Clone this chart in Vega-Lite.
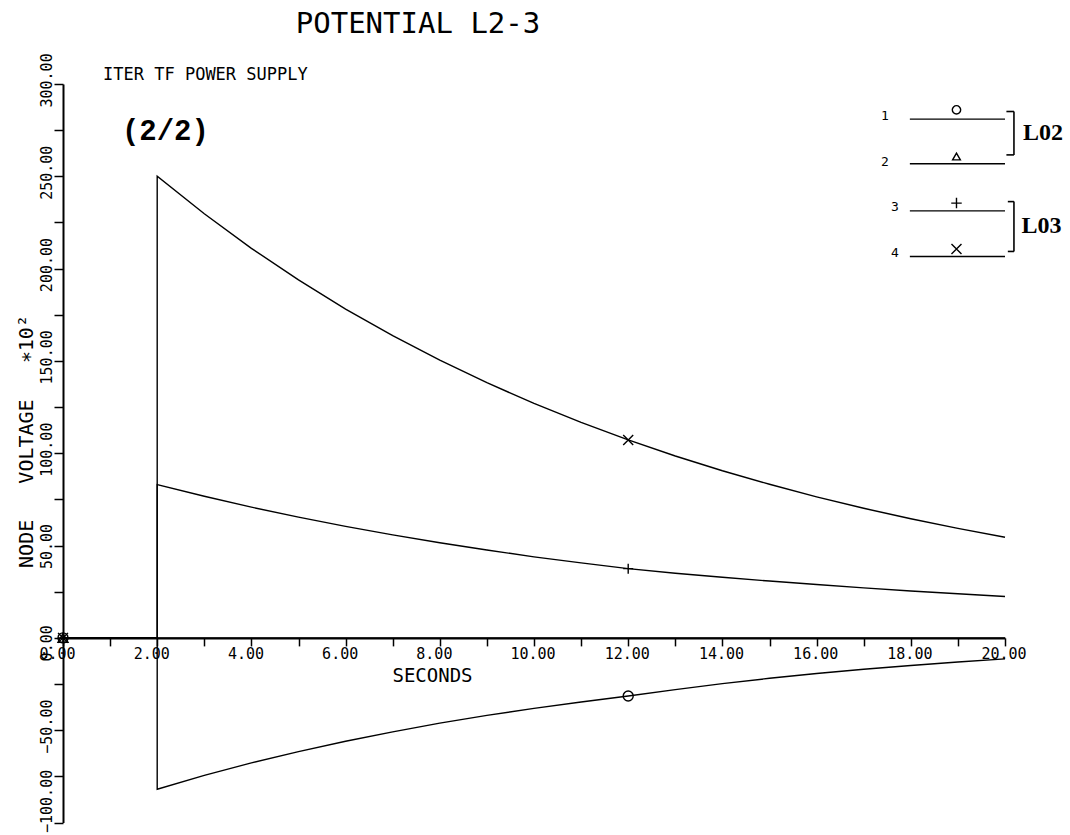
{
  "$schema": "https://vega.github.io/schema/vega-lite/v6.json",
  "width": 942,
  "height": 738.5,
  "autosize": {"type": "none"},
  "padding": {"left": 63, "top": 84, "right": 65, "bottom": 12.5},
  "background": "white",
  "config": {"view": {"stroke": null}, "font": "DejaVu Sans Mono"},
  "title": {
    "text": "POTENTIAL L2-3",
    "anchor": "start",
    "frame": "group",
    "align": "center",
    "dx": 355,
    "offset": 14,
    "font": "DejaVu Sans Mono",
    "fontSize": 29,
    "fontWeight": "normal",
    "color": "black"
  },
  "datasets": {
    "curves": [
      {"series": "4", "t": 0, "v": 0}, {"series": "4", "t": 2, "v": 0}, {"series": "4", "t": 2, "v": 250},
      {"series": "4", "t": 3, "v": 229.7}, {"series": "4", "t": 4, "v": 211.0}, {"series": "4", "t": 5, "v": 193.9},
      {"series": "4", "t": 6, "v": 178.1}, {"series": "4", "t": 7, "v": 163.7}, {"series": "4", "t": 8, "v": 150.4},
      {"series": "4", "t": 9, "v": 138.2}, {"series": "4", "t": 10, "v": 127.0}, {"series": "4", "t": 11, "v": 116.7},
      {"series": "4", "t": 12, "v": 107.2}, {"series": "4", "t": 13, "v": 98.5}, {"series": "4", "t": 14, "v": 90.5},
      {"series": "4", "t": 15, "v": 83.2}, {"series": "4", "t": 16, "v": 76.4}, {"series": "4", "t": 17, "v": 70.2},
      {"series": "4", "t": 18, "v": 64.5}, {"series": "4", "t": 19, "v": 59.3}, {"series": "4", "t": 20, "v": 54.5},
      {"series": "3", "t": 0, "v": 0}, {"series": "3", "t": 2, "v": 0}, {"series": "3", "t": 2, "v": 83},
      {"series": "3", "t": 3, "v": 76.7}, {"series": "3", "t": 4, "v": 70.8}, {"series": "3", "t": 5, "v": 65.4},
      {"series": "3", "t": 6, "v": 60.4}, {"series": "3", "t": 7, "v": 55.8}, {"series": "3", "t": 8, "v": 51.5},
      {"series": "3", "t": 9, "v": 47.6}, {"series": "3", "t": 10, "v": 43.9}, {"series": "3", "t": 11, "v": 40.6},
      {"series": "3", "t": 12, "v": 37.5}, {"series": "3", "t": 13, "v": 35.0}, {"series": "3", "t": 14, "v": 32.8},
      {"series": "3", "t": 15, "v": 30.8}, {"series": "3", "t": 16, "v": 28.9}, {"series": "3", "t": 17, "v": 27.1},
      {"series": "3", "t": 18, "v": 25.4}, {"series": "3", "t": 19, "v": 23.9}, {"series": "3", "t": 20, "v": 22.4},
      {"series": "2", "t": 0, "v": 0}, {"series": "2", "t": 20, "v": 0},
      {"series": "1", "t": 0, "v": 0}, {"series": "1", "t": 2, "v": 0}, {"series": "1", "t": 2, "v": -82},
      {"series": "1", "t": 3, "v": -74.5}, {"series": "1", "t": 4, "v": -67.7}, {"series": "1", "t": 5, "v": -61.6},
      {"series": "1", "t": 6, "v": -56.0}, {"series": "1", "t": 7, "v": -50.9}, {"series": "1", "t": 8, "v": -46.2},
      {"series": "1", "t": 9, "v": -42.0}, {"series": "1", "t": 10, "v": -38.2}, {"series": "1", "t": 11, "v": -34.7},
      {"series": "1", "t": 12, "v": -31.5}, {"series": "1", "t": 13, "v": -28.0}, {"series": "1", "t": 14, "v": -24.8},
      {"series": "1", "t": 15, "v": -21.9}, {"series": "1", "t": 16, "v": -19.3}, {"series": "1", "t": 17, "v": -17.0},
      {"series": "1", "t": 18, "v": -15.0}, {"series": "1", "t": 19, "v": -13.1}, {"series": "1", "t": 20, "v": -11.4}
    ],
    "markers": [
      {"series": "1", "t": 0, "v": 0}, {"series": "2", "t": 0, "v": 0},
      {"series": "3", "t": 0, "v": 0}, {"series": "4", "t": 0, "v": 0},
      {"series": "1", "t": 12, "v": -31.5}, {"series": "3", "t": 12, "v": 37.5}, {"series": "4", "t": 12, "v": 107.2}
    ],
    "note": [{}]
  },
  "layer": [
    {
      "data": {"name": "curves"},
      "mark": {"type": "line", "color": "black", "strokeWidth": 1.4},
      "encoding": {
        "x": {
          "field": "t", "type": "quantitative",
          "scale": {"domain": [0, 20], "nice": false, "zero": false},
          "axis": {
            "title": "SECONDS",
            "values": [0,1,2,3,4,5,6,7,8,9,10,11,12,13,14,15,16,17,18,19,20],
            "format": ".2f",
            "labelExpr": "datum.value % 2 ? '' : datum.label",
            "offset": -184.6,
            "grid": false,
            "domainColor": "black", "domainWidth": 2,
            "tickColor": "black", "tickWidth": 1.5, "tickSize": 8,
            "labelFont": "DejaVu Sans Mono", "labelFontSize": 15, "labelColor": "black",
            "labelAlign": "left", "labelOffset": -24, "labelPadding": 1, "labelBaseline": "top",
            "labelFlush": false, "labelOverlap": false,
            "titleFont": "DejaVu Sans Mono", "titleFontSize": 19, "titleFontWeight": "normal", "titleColor": "black",
            "titleX": 369, "titleY": 44, "titleAlign": "center", "titleBaseline": "alphabetic"
          }
        },
        "y": {
          "field": "v", "type": "quantitative",
          "scale": {"domain": [-100, 300], "nice": false, "zero": false},
          "axis": {
            "title": "NODE\u00a0\u00a0\u00a0VOLTAGE\u00a0\u00a0\u00a0\u221710\u00b2",
            "values": [-100,-75,-50,-25,0,25,50,75,100,125,150,175,200,225,250,275,300],
            "format": ".2f",
            "labelExpr": "datum.value % 50 ? '' : datum.label",
            "grid": false,
            "domainColor": "black", "domainWidth": 2,
            "tickColor": "black", "tickWidth": 1.5, "tickSize": 9,
            "labelFont": "DejaVu Sans Mono", "labelFontSize": 15, "labelColor": "black",
            "labelAngle": -90, "labelAlign": "left", "labelBaseline": "bottom",
            "labelOffset": {"condition": {"test": "datum.value < -90", "value": 10}, "value": 23},
            "labelPadding": 0, "labelOverlap": false, "labelFlush": false,
            "titleFont": "DejaVu Sans Mono", "titleFontSize": 20, "titleFontWeight": "normal", "titleColor": "black",
            "titleAngle": -90, "titleX": -37, "titleY": 357, "titleAlign": "center", "titleBaseline": "middle"
          }
        },
        "detail": {"field": "series", "type": "nominal"},
        "order": {"value": null}
      }
    },
    {
      "data": {"name": "markers"},
      "mark": {"type": "point", "filled": false, "color": "black", "strokeWidth": 1.4, "size": 100, "opacity": 1},
      "encoding": {
        "x": {"field": "t", "type": "quantitative"},
        "y": {"field": "v", "type": "quantitative"},
        "shape": {
          "field": "series", "type": "nominal",
          "scale": {"domain": ["1", "2", "3", "4"], "range": ["circle", "triangle-up", "M-1,0H1M0,-1V1", "M-1,-1L1,1M-1,1L1,-1"]},
          "legend": null
        }
      }
    },
    {
      "data": {"name": "note"},
      "layer": [
        {"mark": {"type": "text", "text": "ITER TF POWER SUPPLY", "align": "left", "baseline": "middle", "font": "DejaVu Sans Mono", "fontSize": 17, "color": "black"},
         "encoding": {"x": {"datum": 0.85}, "y": {"datum": 304.8}}},
        {"mark": {"type": "text", "text": "(2/2)", "align": "left", "baseline": "middle", "font": "Liberation Mono", "fontWeight": "bold", "fontSize": 29, "color": "black"},
         "encoding": {"x": {"datum": 1.25}, "y": {"datum": 274.4}}},
        {"mark": {"type": "rule", "color": "black", "strokeWidth": 1.4}, "encoding": {"x": {"datum": 17.98}, "x2": {"datum": 20.0}, "y": {"datum": 281.0}}},
        {"mark": {"type": "rule", "color": "black", "strokeWidth": 1.4}, "encoding": {"x": {"datum": 17.98}, "x2": {"datum": 20.0}, "y": {"datum": 256.8}}},
        {"mark": {"type": "rule", "color": "black", "strokeWidth": 1.4}, "encoding": {"x": {"datum": 17.98}, "x2": {"datum": 20.0}, "y": {"datum": 231.3}}},
        {"mark": {"type": "rule", "color": "black", "strokeWidth": 1.4}, "encoding": {"x": {"datum": 17.98}, "x2": {"datum": 20.0}, "y": {"datum": 206.6}}},
        {"mark": {"type": "point", "shape": "circle", "filled": false, "color": "black", "strokeWidth": 1.4, "size": 70, "opacity": 1}, "encoding": {"x": {"datum": 18.97}, "y": {"datum": 286.0}}},
        {"mark": {"type": "point", "shape": "triangle-up", "filled": false, "color": "black", "strokeWidth": 1.4, "size": 60, "opacity": 1}, "encoding": {"x": {"datum": 18.97}, "y": {"datum": 260.7}}},
        {"mark": {"type": "point", "shape": "M-1,0H1M0,-1V1", "filled": false, "color": "black", "strokeWidth": 1.4, "size": 110, "opacity": 1}, "encoding": {"x": {"datum": 18.97}, "y": {"datum": 235.5}}},
        {"mark": {"type": "point", "shape": "M-1,-1L1,1M-1,1L1,-1", "filled": false, "color": "black", "strokeWidth": 1.4, "size": 100, "opacity": 1}, "encoding": {"x": {"datum": 18.97}, "y": {"datum": 210.6}}},
        {"mark": {"type": "text", "text": "1", "align": "center", "baseline": "middle", "font": "DejaVu Sans Mono", "fontSize": 13, "color": "black"}, "encoding": {"x": {"datum": 17.45}, "y": {"datum": 282.4}}},
        {"mark": {"type": "text", "text": "2", "align": "center", "baseline": "middle", "font": "DejaVu Sans Mono", "fontSize": 13, "color": "black"}, "encoding": {"x": {"datum": 17.45}, "y": {"datum": 258.0}}},
        {"mark": {"type": "text", "text": "3", "align": "center", "baseline": "middle", "font": "DejaVu Sans Mono", "fontSize": 13, "color": "black"}, "encoding": {"x": {"datum": 17.66}, "y": {"datum": 233.6}}},
        {"mark": {"type": "text", "text": "4", "align": "center", "baseline": "middle", "font": "DejaVu Sans Mono", "fontSize": 13, "color": "black"}, "encoding": {"x": {"datum": 17.66}, "y": {"datum": 208.4}}},
        {"mark": {"type": "rule", "color": "black", "strokeWidth": 1.6}, "encoding": {"x": {"datum": 20.19}, "y": {"datum": 285.1}, "y2": {"datum": 261.6}}},
        {"mark": {"type": "rule", "color": "black", "strokeWidth": 1.6}, "encoding": {"x": {"datum": 20.03}, "x2": {"datum": 20.19}, "y": {"datum": 285.1}}},
        {"mark": {"type": "rule", "color": "black", "strokeWidth": 1.6}, "encoding": {"x": {"datum": 20.03}, "x2": {"datum": 20.19}, "y": {"datum": 261.6}}},
        {"mark": {"type": "rule", "color": "black", "strokeWidth": 1.6}, "encoding": {"x": {"datum": 20.19}, "y": {"datum": 236.3}, "y2": {"datum": 209.3}}},
        {"mark": {"type": "rule", "color": "black", "strokeWidth": 1.6}, "encoding": {"x": {"datum": 20.06}, "x2": {"datum": 20.19}, "y": {"datum": 236.3}}},
        {"mark": {"type": "rule", "color": "black", "strokeWidth": 1.6}, "encoding": {"x": {"datum": 20.06}, "x2": {"datum": 20.19}, "y": {"datum": 209.3}}},
        {"mark": {"type": "text", "text": "L02", "align": "left", "baseline": "middle", "font": "Liberation Serif", "fontWeight": "bold", "fontSize": 24, "color": "black"}, "encoding": {"x": {"datum": 20.38}, "y": {"datum": 273.6}}},
        {"mark": {"type": "text", "text": "L03", "align": "left", "baseline": "middle", "font": "Liberation Serif", "fontWeight": "bold", "fontSize": 24, "color": "black"}, "encoding": {"x": {"datum": 20.35}, "y": {"datum": 223.2}}}
      ]
    }
  ]
}
